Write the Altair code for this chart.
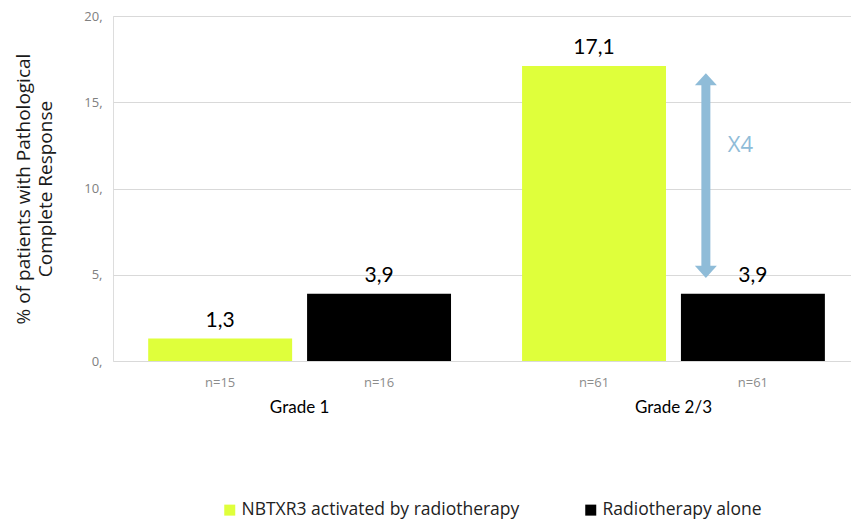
import altair as alt
import pandas as pd

# Pathological complete response by tumour grade and treatment arm
grades = ["Grade 1", "Grade 1", "Grade 2/3", "Grade 2/3"]
arms = ["NBTXR3 activated by radiotherapy", "Radiotherapy alone",
        "NBTXR3 activated by radiotherapy", "Radiotherapy alone"]
rates = [1.3, 3.9, 17.1, 3.9]
counts = ["n=15", "n=16", "n=61", "n=61"]

arm_order = ["NBTXR3 activated by radiotherapy", "Radiotherapy alone"]
arm_colors = ["#dfff3b", "#000000"]

# Fold-change annotation on the Grade 2/3 group
arrow_grade = ["Grade 2/3"]
arrow_low = [5.2]
arrow_high = [16.3]
fold_label = ["X4"]
fold_y = [12.5]

df = pd.DataFrame({"grade": grades, "arm": arms, "rate": rates, "n": counts})
df["label"] = [f"{v:.1f}".replace(".", ",") for v in rates]

arrow_df = pd.DataFrame({"grade": arrow_grade, "low": arrow_low,
                         "high": arrow_high, "label": fold_label, "ly": fold_y})

ARROW = "#8fbcd8"
SANS = "Open Sans"

x_scale = alt.Scale(domain=["Grade 1", "Grade 2/3"], paddingInner=0.19,
                    paddingOuter=0.082, align=0.574)
y_scale = alt.Scale(domain=[0, 20])

x_enc = alt.X("grade:N", scale=x_scale, title=None,
              axis=alt.Axis(domain=False, ticks=False, labelAngle=0,
                            labelPadding=38, labelFontSize=17, labelFont="Lato",
                            labelColor="#000000"))
xo_enc = alt.XOffset("arm:N", sort=arm_order,
                     scale=alt.Scale(domain=arm_order, paddingInner=0.094, paddingOuter=0))
y_enc = alt.Y("rate:Q", scale=y_scale,
              title=["% of patients with Pathological", "Complete Response"],
              axis=alt.Axis(values=[0, 5, 10, 15, 20], domain=False, ticks=False,
                            labelExpr="datum.value + ','", labelFont=SANS,
                            labelFontSize=13, labelColor="#808080", labelPadding=11,
                            gridColor="#d9d9d9", gridWidth=1,
                            titleFont=SANS, titleFontSize=19,
                            titleFontWeight="normal", titleColor="#1a1a1a",
                            titlePadding=28, titleLineHeight=22))

base = alt.Chart(df)

bars = base.mark_bar().encode(
    x=x_enc, xOffset=xo_enc, y=y_enc,
    color=alt.Color("arm:N", sort=arm_order,
                    scale=alt.Scale(domain=arm_order, range=arm_colors),
                    legend=alt.Legend(orient="none", legendX=108, legendY=485,
                                      direction="horizontal", title=None,
                                      symbolType="square", symbolSize=121,
                                      symbolStrokeWidth=0, labelFont=SANS,
                                      labelFontSize=17.5, labelColor="#222222",
                                      labelOffset=3, columnPadding=62,
                                      labelLimit=400)),
)

values = base.mark_text(font="Lato", fontSize=21, baseline="alphabetic",
                        dy=-12, color="#000000").encode(
    x=alt.X("grade:N", scale=x_scale), xOffset=xo_enc,
    y=alt.Y("rate:Q", scale=y_scale), text="label:N")

ns = base.mark_text(font=SANS, fontSize=13, baseline="middle", dy=22,
                    color="#8c8c8c").encode(
    x=alt.X("grade:N", scale=x_scale), xOffset=xo_enc,
    y=alt.datum(0), text="n:N")

arrow_x = alt.X("grade:N", scale=x_scale, bandPosition=0.607)

shaft = alt.Chart(arrow_df).mark_rule(strokeWidth=9, color=ARROW).encode(
    x=arrow_x, y=alt.Y("low:Q", scale=y_scale), y2="high:Q")

head_up = alt.Chart(arrow_df).mark_point(
    shape="M-1,0.5L0,-0.6L1,0.5Z", filled=True, size=484, opacity=1,
    color=ARROW).encode(x=arrow_x, y=alt.Y("high:Q", scale=y_scale))

head_down = alt.Chart(arrow_df).mark_point(
    shape="M-1,-0.5L0,0.6L1,-0.5Z", filled=True, size=484, opacity=1,
    color=ARROW).encode(x=arrow_x, y=alt.Y("low:Q", scale=y_scale))

fold = alt.Chart(arrow_df).mark_text(font=SANS, fontSize=22, align="left",
                                     baseline="middle", dx=22, color=ARROW).encode(
    x=arrow_x, y=alt.Y("ly:Q", scale=y_scale), text="label:N")

chart = alt.layer(bars, values, ns, shaft, head_up, head_down, fold).properties(
    width=738, height=345,
    autosize=alt.AutoSizeParams(type="none"),
    padding={"left": 113, "top": 16, "right": 0, "bottom": 158},
).configure_view(stroke=None).configure(background="white")

chart.save("out.html", embed_options={"renderer": "svg", "actions": False})
